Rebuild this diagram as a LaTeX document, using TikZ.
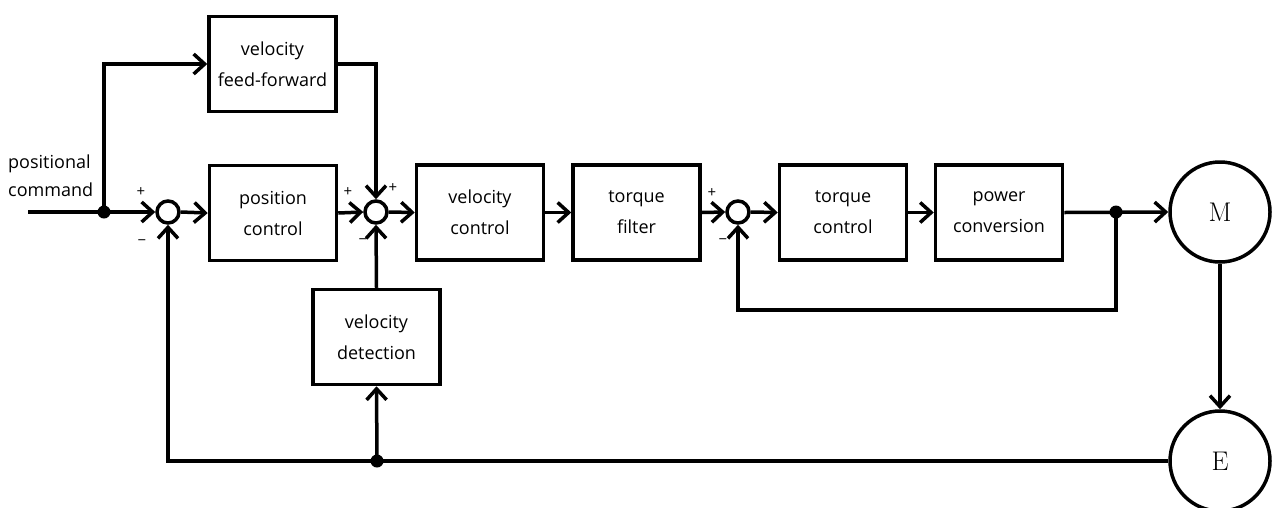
\documentclass[tikz,border=0pt]{standalone}
\usepackage{fontspec}
\setsansfont{Open Sans}
\usetikzlibrary{arrows.meta}
\tikzset{
  lw/.style={line width=3.5pt},
  blk/.style={draw, lw, minimum width=127pt, minimum height=95pt, align=center, font=\sffamily\fontsize{18}{31}\selectfont, inner sep=0pt},
  sumc/.style={draw, lw, circle, minimum size=22pt, inner sep=0pt},
  bigc/.style={draw, lw, circle, minimum size=100pt, inner sep=0pt, font=\fontsize{27}{27}\selectfont},
  dotc/.style={circle, fill=black, minimum size=13pt, inner sep=0pt},
  arr/.style={lw, -{Straight Barb[length=11pt,width=20pt,line width=3.5pt]}},
  sgn/.style={font=\sffamily\fontsize{15}{15}\selectfont, inner sep=0pt},
  lbl/.style={font=\sffamily\fontsize{18}{28}\selectfont, align=left, inner sep=0pt}
}
\begin{document}
\begin{tikzpicture}[x=1pt,y=-1pt]
\useasboundingbox (0,0) rectangle (1279,507);
\node[blk] (ff) at (272.5,64) {velocity\\feed-forward};
\node[blk] (pc) at (273,213) {position\\control};
\node[blk] (vc) at (480,212.5) {velocity\\control};
\node[blk] (tf) at (636.5,212.5) {torque\\filter};
\node[blk] (tc) at (843,212.5) {torque\\control};
\node[blk] (pw) at (999,212.5) {power\\conversion};
\node[blk] (vd) at (376.5,337) {velocity\\detection};
\node[sumc] (s1) at (168,212) {};
\node[sumc] (s2) at (376,212) {};
\node[sumc] (s3) at (738,212) {};
\node[bigc] (M) at (1220,212) {M};
\node[bigc] (E) at (1220,461) {E};
\node[dotc] (j1) at (104,212) {};
\node[dotc] (j2) at (1116,212) {};
\node[dotc] (j3) at (377,461) {};
\coordinate (in) at (28,212);
\coordinate (fb) at (1116,310);
\node[lbl, anchor=west] (cmd) at (8,176) {positional\\command};
% signs
\node[sgn] (p1) at (141,192) {+};
\node[sgn] (m1) at (142,243) {\textminus};
\node[sgn] (p2) at (348,192) {+};
\node[sgn] (p2b) at (393,188) {+};
\node[sgn] (m2) at (363,242) {\textminus};
\node[sgn] (p3) at (712,193) {+};
\node[sgn] (m3) at (723,242) {\textminus};
% connectors
\draw[arr] (in) -- (s1.west);
\draw[arr] (j1.center) |- (ff.west);
\draw[arr] (s1.east) -- (pc.west);
\draw[arr] (pc.east) -- (s2.west);
\draw[arr] (ff.east) -| (s2.north);
\draw[arr] (s2.east) -- (vc.west);
\draw[arr] (vc.east) -- (tf.west);
\draw[arr] (tf.east) -- (s3.west);
\draw[arr] (s3.east) -- (tc.west);
\draw[arr] (tc.east) -- (pw.west);
\draw[arr] (pw.east) -- (M.west);
\draw[arr] (j2.center) -- (fb) -| (s3.south);
\draw[arr] (M.south) -- (E.north);
\draw[arr] (E.west) -| (s1.south);
\draw[arr] (j3.center) -- (vd.south);
\draw[arr] (vd.north) -- (s2.south);
\end{tikzpicture}
\end{document}
